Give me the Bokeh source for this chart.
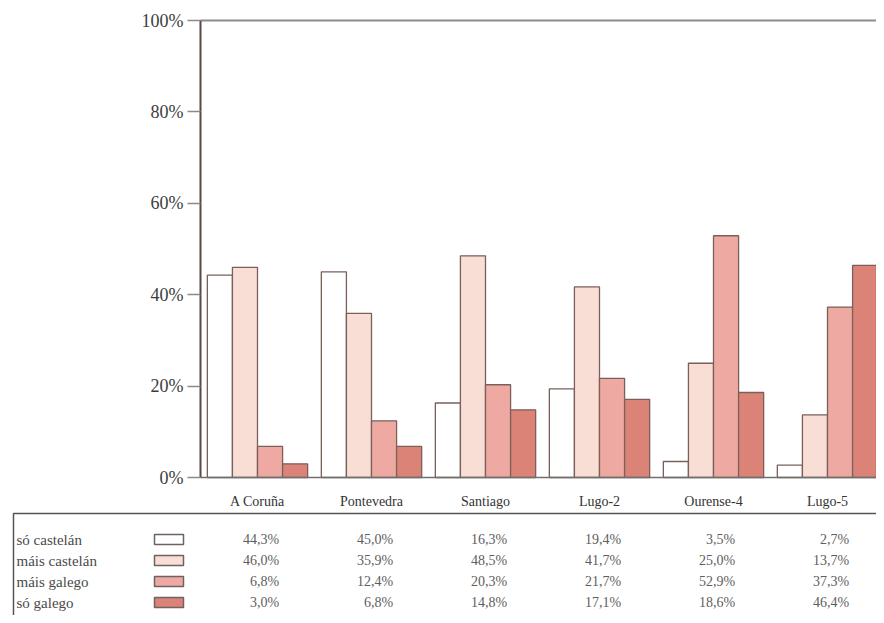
from bokeh.plotting import figure
from bokeh.models import Range1d, FixedTicker, PrintfTickFormatter, ColumnDataSource, LinearAxis
from bokeh.transform import dodge
from bokeh.core.properties import value
from bokeh.embed import file_html
from bokeh.resources import INLINE

# ---------------- data ----------------
categories = ["A Coruña", "Pontevedra", "Santiago", "Lugo-2", "Ourense-4", "Lugo-5"]
series_names = ["só castelán", "máis castelán", "máis galego", "só galego"]
so_castelan = [44.3, 45.0, 16.3, 19.4, 3.5, 2.7]
mais_castelan = [46.0, 35.9, 48.5, 41.7, 25.0, 13.7]
mais_galego = [6.8, 12.4, 20.3, 21.7, 52.9, 37.3]
so_galego = [3.0, 6.8, 14.8, 17.1, 18.6, 46.4]
y_ticks = [0, 20, 40, 60, 80, 100]

series_values = [so_castelan, mais_castelan, mais_galego, so_galego]
colors = ["#ffffff", "#f8ded4", "#eeaaa2", "#dc8378"]
edge = "#7a5f5a"
FONT = value("Liberation Serif")

# ------------- geometry: page pixels -> data units -------------
W, H = 876, 615
PX = 114.0                 # pixels per category
C0 = 257.0                 # x of first category center
Y0, Y100 = 477.0, 20.0     # y pixels of 0% and 100%
def ux(px):
    return (px - C0) / PX
def uy(py):
    return (Y0 - py) / (Y0 - Y100) * 100.0

p = figure(width=W, height=H, output_backend="svg", toolbar_location=None,
           x_range=Range1d(ux(0), ux(W)), y_range=Range1d(uy(H), uy(0)),
           x_axis_type=None, y_axis_type=None,
           min_border_left=0, min_border_right=0, min_border_top=0, min_border_bottom=0)
p.outline_line_color = None
p.grid.visible = False
p.background_fill_color = "white"
p.border_fill_color = "white"

# ---------------- bars ----------------
src = ColumnDataSource(dict(x=list(range(len(categories))),
                            s0=so_castelan, s1=mais_castelan,
                            s2=mais_galego, s3=so_galego))
bw = 0.22
for k, key in enumerate(["s0", "s1", "s2", "s3"]):
    off = (k - 1.5) * bw
    p.vbar(x=dodge("x", off, range=p.x_range), top=key, width=bw, bottom=0,
           source=src, fill_color=colors[k], line_color=edge, line_width=1.3)

# ---------------- axes ----------------
yax = LinearAxis(fixed_location=ux(200), bounds=(0, 100))
yax.ticker = FixedTicker(ticks=y_ticks)
yax.formatter = PrintfTickFormatter(format="%d%%")
yax.minor_tick_line_color = None
yax.major_tick_in = 0
yax.major_tick_out = 13
yax.major_tick_line_color = "#8a8a8a"
yax.major_tick_line_width = 1.5
yax.axis_line_color = "#5b4744"
yax.axis_line_width = 2
yax.major_label_text_font = "Liberation Serif"
yax.major_label_text_font_size = "18px"
yax.major_label_text_color = "#3d3d3d"
yax.major_label_standoff = 4
p.add_layout(yax, "left")

xax = LinearAxis(fixed_location=0, bounds=(ux(200), ux(W)))
xax.ticker = FixedTicker(ticks=list(range(len(categories))))
xax.major_label_overrides = {i: c for i, c in enumerate(categories)}
xax.minor_tick_line_color = None
xax.major_tick_line_color = None
xax.major_tick_in = 0
xax.major_tick_out = 0
xax.axis_line_color = "#707070"
xax.axis_line_width = 1.5
xax.major_label_text_font = "Liberation Serif"
xax.major_label_text_font_size = "14px"
xax.major_label_text_color = "#333333"
xax.major_label_standoff = 16
p.add_layout(xax, "below")

top_ax = LinearAxis(fixed_location=100, bounds=(ux(200), ux(W)),
                    ticker=FixedTicker(ticks=[]))
top_ax.axis_line_color = "#8c8c8c"
top_ax.axis_line_width = 2
top_ax.major_label_text_font_size = "0px"
top_ax.major_tick_line_color = None
top_ax.minor_tick_line_color = None
p.add_layout(top_ax, "above")

# ---------------- table ----------------
ROWS_PX = [539, 560, 581, 602]
row_y = [uy(py) for py in ROWS_PX]

p.quad(left=[ux(13)], right=[ux(W + 20)], top=[uy(513)], bottom=[uy(H + 20)],
       fill_color=None, line_color="#555555", line_width=1.5)

p.text(x=[ux(16)] * len(series_names), y=row_y, text=series_names, text_font=FONT,
       text_font_size="15px", text_color="#4a4a4a", text_baseline="middle", text_align="left")
p.rect(x=[ux(168.5)] * len(series_names), y=row_y, width=29, height=10,
       width_units="screen", height_units="screen",
       fill_color=colors, line_color="#6e6262", line_width=1.5)

vx, vy, vt = [], [], []
for r, vals in enumerate(series_values):
    for i, v in enumerate(vals):
        vx.append(i + 0.19)
        vy.append(row_y[r])
        vt.append(f"{v:.1f}".replace(".", ",") + "%")
p.text(x=vx, y=vy, text=vt, text_font=FONT, text_font_size="14px", text_color="#5e5e5e",
       text_baseline="middle", text_align="right")

open("out.html", "w").write(file_html(p, INLINE))
